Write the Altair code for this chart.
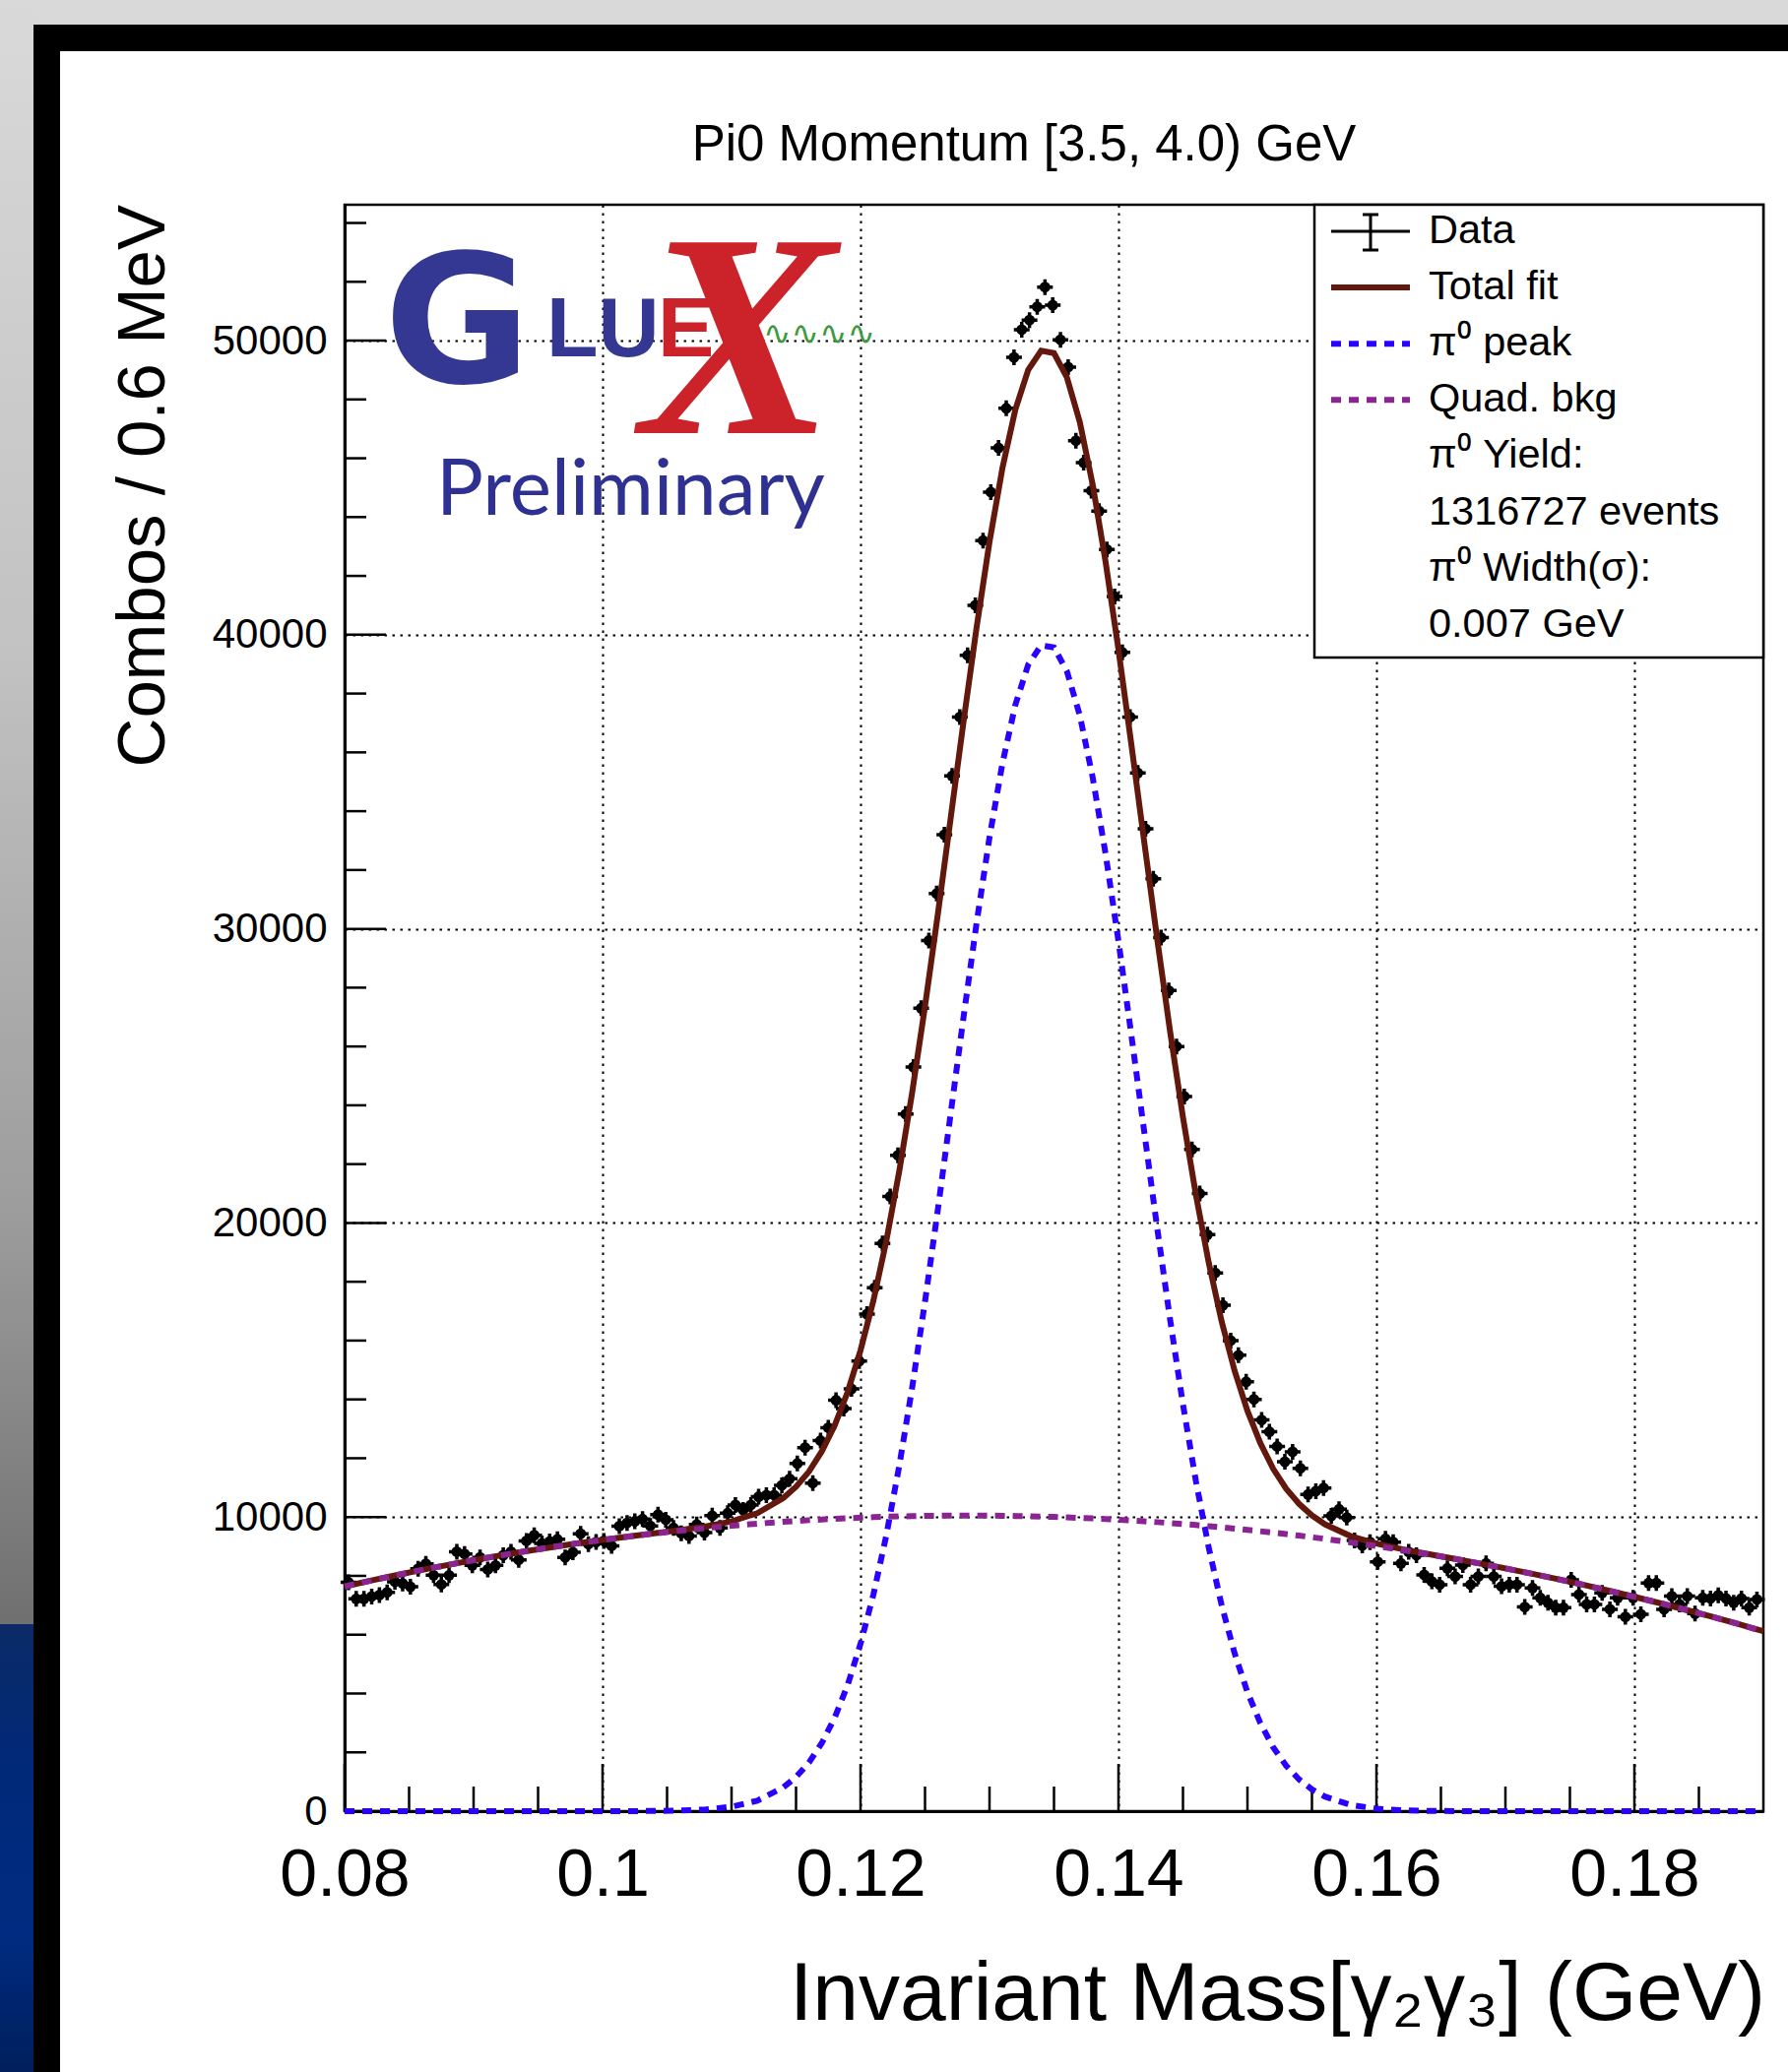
import altair as alt
import pandas as pd

# ---------------- data ----------------
BIN_LO = 0.08          # histogram starts at 0.08 GeV
BIN_W = 0.0006         # 0.6 MeV bins

COUNTS = [
    7780, 7220, 7220, 7300, 7350, 7440, 7800, 7740, 7630, 8245,
    8410, 8020, 7710, 8020, 8820, 8745, 8355, 8630, 8220, 8355,
    8700, 8820, 8545, 9190, 9380, 9100, 9170, 9245, 8630, 8800,
    9430, 9080, 9150, 9190, 9020, 9690, 9800, 9855, 9930, 9700,
    10080, 9910, 9630, 9450, 9355, 9745, 9470, 10045, 9630, 10130,
    10410, 10240, 10410, 10690, 10745, 10745, 11080, 11300, 11820, 12360,
    11155, 12600, 13040, 13970, 13690, 14355,
    15300, 16900, 17800, 19300, 20900, 22300, 23700, 25300, 27300, 29600,
    31200, 33200, 35200, 37200, 39300, 41000, 43200, 44850, 46350, 47700,
    49430, 50370, 50700, 51150, 51818, 51205, 50030, 49100, 46600, 45850,
    44900, 44200, 42900, 41300, 39400, 37200, 35300, 33400, 31700, 29700,
    27900, 26000, 24300, 22500, 21000, 19600, 18300, 17200, 16000, 15500,
    14600, 14000, 13300, 12900, 12400,
    11881, 12216, 11658, 10766, 10878, 10989, 10040, 10263, 9984, 9203,
    9036, 9148, 8479, 9259, 9148, 8424, 8815, 8703, 8034, 7811,
    7700, 8257, 7978, 8369, 7700, 7978, 8424, 7978, 7644, 7700,
    7700, 6941, 7588, 7253, 7086, 6919, 6919, 7867, 7365, 7030,
    7030, 7421, 6863, 7253, 6606, 7253, 6695, 7756, 7756, 6863,
    7309, 7030, 7309, 6718, 7253, 7231, 7342, 7231, 7086, 7231,
    6919, 7197,
]

CURVE_X = [
    0.080, 0.082, 0.084, 0.086, 0.088, 0.090, 0.092, 0.094, 0.096, 0.098,
    0.100, 0.102, 0.104, 0.106, 0.108, 0.110, 0.112, 0.114,
    0.115, 0.116, 0.117, 0.118, 0.119, 0.120, 0.121, 0.122, 0.123, 0.124,
    0.125, 0.126, 0.127, 0.128, 0.129, 0.130, 0.131, 0.132, 0.133, 0.134,
    0.135, 0.136, 0.137, 0.138, 0.139, 0.140, 0.141, 0.142, 0.143, 0.144,
    0.145, 0.146, 0.147, 0.148, 0.149, 0.150, 0.151, 0.152, 0.153, 0.154,
    0.155, 0.156,
    0.158, 0.160, 0.162, 0.164, 0.166, 0.168, 0.170, 0.172, 0.174, 0.176,
    0.178, 0.180, 0.182, 0.184, 0.186, 0.188, 0.190,
]
BKG = [
    7640, 7835, 8023, 8202, 8372, 8535, 8689, 8835, 8972, 9102,
    9223, 9335, 9440, 9536, 9624, 9704, 9775, 9839,
    9867, 9894, 9918, 9940, 9961, 9979, 9995, 10009, 10021, 10031,
    10039, 10045, 10048, 10050, 10050, 10047, 10042, 10036, 10027, 10016,
    10004, 9989, 9972, 9953, 9932, 9909, 9883, 9856, 9827, 9796,
    9762, 9727, 9689, 9649, 9607, 9564, 9518, 9470, 9420, 9368,
    9314, 9257,
    9139, 9012, 8877, 8734, 8582, 8422, 8254, 8077, 7893, 7700,
    7498, 7289, 7071, 6845, 6611, 6368, 6117,
]
PEAK = [
    0, 0, 0, 0, 0, 0, 0, 0, 0, 0,
    0, 2, 7, 20, 57, 150, 358, 803,
    1161, 1650, 2317, 3180, 4288, 5690, 7364, 9380, 11730, 14390,
    17330, 20470, 23750, 27040, 30200, 33110, 35620, 37610, 38980, 39640,
    39570, 38760, 37260, 35150, 32550, 29580, 26380, 23090, 19830, 16720,
    13830, 11230, 8953, 7000, 5372, 4045, 2993, 2168, 1546, 1081,
    740, 496,
    213, 85, 31, 11, 4, 0, 0, 0, 0, 0,
    0, 0, 0, 0, 0, 0, 0,
]
TOTAL = [
    7640, 7835, 8023, 8202, 8372, 8535, 8689, 8835, 8972, 9102,
    9223, 9337, 9447, 9556, 9681, 9854, 10133, 10642,
    11028, 11544, 12235, 13120, 14249, 15669, 17359, 19389, 21751, 24421,
    27369, 30515, 33798, 37090, 40250, 43157, 45662, 47646, 49007, 49656,
    49574, 48749, 47232, 45103, 42482, 39489, 36263, 32946, 29657, 26516,
    23592, 20957, 18642, 16649, 14979, 13609, 12511, 11638, 10966, 10449,
    10054, 9753,
    9352, 9097, 8908, 8745, 8586, 8422, 8254, 8077, 7893, 7700,
    7498, 7289, 7071, 6845, 6611, 6368, 6117,
]

X_MAJOR = [0.08, 0.10, 0.12, 0.14, 0.16, 0.18]
X_MINOR = [0.085, 0.09, 0.095, 0.105, 0.11, 0.115, 0.125, 0.13, 0.135,
           0.145, 0.15, 0.155, 0.165, 0.17, 0.175, 0.185]
Y_MAJOR = [0, 10000, 20000, 30000, 40000, 50000]
Y_MINOR = [2000, 4000, 6000, 8000, 12000, 14000, 16000, 18000, 22000, 24000,
           26000, 28000, 32000, 34000, 36000, 38000, 42000, 44000, 46000,
           48000, 52000, 54000]

TITLE = "Pi0 Momentum [3.5, 4.0) GeV"
X_TITLE = "Invariant Mass[γ₂γ₃] (GeV)"
Y_TITLE = "Combos / 0.6 MeV"
LEGEND_LABELS = ["Data", "Total fit", "π⁰ peak", "Quad. bkg", "π⁰ Yield:",
                 "1316727 events", "π⁰ Width(σ):", "0.007 GeV"]

# ---------------- layout / style ----------------
W, H = 1441, 1632
PL, PT, PR, PB = 350, 208, 25, 265
FONT = "Liberation Sans"
BROWN = "#62180d"
BLUE = "#2a00ff"
PURPLE = "#8b2493"
DASH = [10, 8]

xs = alt.Scale(domain=[0.08, 0.19], nice=False, zero=False)
ys = alt.Scale(domain=[0, 54620], nice=False, zero=False)

ONE = pd.DataFrame({"k": [0]})


def rx(a):
    return a - PL


def ry(a):
    return a - PT


def rect(x1, x2, y1, y2, fill, stroke=None, sw=0):
    kw = dict(fill=fill, opacity=1)
    if stroke:
        kw.update(stroke=stroke, strokeWidth=sw)
    else:
        kw.update(strokeWidth=0)
    return alt.Chart(ONE).mark_rect(**kw).encode(
        x=alt.value(x1), x2=alt.value(x2), y=alt.value(y1), y2=alt.value(y2))


def hrule(x1, x2, y, color, width, dash=None):
    kw = dict(color=color, strokeWidth=width, opacity=1)
    if dash:
        kw["strokeDash"] = dash
    return alt.Chart(ONE).mark_rule(**kw).encode(
        x=alt.value(x1), x2=alt.value(x2), y=alt.value(y))


def vrule(x, y1, y2, color, width):
    return alt.Chart(ONE).mark_rule(color=color, strokeWidth=width).encode(
        x=alt.value(x), y=alt.value(y1), y2=alt.value(y2))


def text(s, x, y, size, color="black", font=FONT, align="left",
         baseline="middle", angle=None, weight=None, style=None):
    kw = dict(text=s, fontSize=size, color=color, font=font, align=align,
              baseline=baseline)
    if angle is not None:
        kw["angle"] = angle
    if weight:
        kw["fontWeight"] = weight
    if style:
        kw["fontStyle"] = style
    return alt.Chart(ONE).mark_text(**kw).encode(x=alt.value(x), y=alt.value(y))


# ---------------- background frame ----------------
gray_grad = alt.LinearGradient(
    gradient="linear",
    stops=[alt.GradientStop(color="#d9d9d9", offset=0),
           alt.GradientStop(color="#c2c2c2", offset=0.4),
           alt.GradientStop(color="#9c9c9c", offset=0.75),
           alt.GradientStop(color="#707070", offset=1)],
    x1=0, x2=0, y1=0, y2=1)
blue_grad = alt.LinearGradient(
    gradient="linear",
    stops=[alt.GradientStop(color="#0b2a66", offset=0),
           alt.GradientStop(color="#00297a", offset=0.35),
           alt.GradientStop(color="#002b80", offset=0.7),
           alt.GradientStop(color="#001f5c", offset=1)],
    x1=0, x2=0, y1=0, y2=1)

bg = [
    rect(rx(0), rx(1816), ry(0), ry(25), "#d9d9d9"),
    rect(rx(0), rx(34), ry(0), ry(1650), gray_grad),
    rect(rx(0), rx(34), ry(1650), ry(2105), blue_grad),
    rect(rx(34), rx(1816), ry(25), ry(52), "#000000"),
    rect(rx(34), rx(61), ry(25), ry(2105), "#000000"),
]

# ---------------- axes, grid, ticks ----------------
X_AX = alt.Axis(values=X_MAJOR, format="~g", labelFontSize=68, labelFont=FONT,
                labelColor="black", labelPadding=31, labelFlush=False,
                labelOverlap=False, ticks=False, domainColor="black",
                domainWidth=3, grid=True, gridColor="black", gridDash=[2.5, 5.5],
                gridWidth=2, gridOpacity=1, title=None)
Y_AX = alt.Axis(values=Y_MAJOR, format="d", labelFontSize=42, labelFont=FONT,
                labelColor="black", labelPadding=18, labelFlush=False,
                labelOverlap=False, ticks=False, domainColor="black",
                domainWidth=3, grid=True, gridColor="black", gridDash=[2.5, 5.5],
                gridWidth=2, gridOpacity=1, title=None)


def X(field):
    return alt.X(field, scale=xs, axis=X_AX, title=None)


def Y(field):
    return alt.Y(field, scale=ys, axis=Y_AX, title=None)


xmaj = pd.DataFrame({"x": X_MAJOR})
xmin = pd.DataFrame({"x": X_MINOR})
ymaj = pd.DataFrame({"y": Y_MAJOR})
ymin = pd.DataFrame({"y": Y_MINOR})

ticks = [
    alt.Chart(xmaj).mark_rule(color="black", strokeWidth=2.5).encode(
        x=X("x:Q"), y=alt.value(H), y2=alt.value(H - 48)),
    alt.Chart(xmin).mark_rule(color="black", strokeWidth=2.5).encode(
        x=X("x:Q"), y=alt.value(H), y2=alt.value(H - 25)),
    alt.Chart(ymaj).mark_rule(color="black", strokeWidth=2.5).encode(
        y=Y("y:Q"), x=alt.value(0), x2=alt.value(42)),
    alt.Chart(ymin).mark_rule(color="black", strokeWidth=2.5).encode(
        y=Y("y:Q"), x=alt.value(0), x2=alt.value(22)),
]

# ---------------- data points ----------------
centers = [round(BIN_LO + BIN_W * (i + 0.5), 5) for i in range(len(COUNTS))]
pts_df = pd.DataFrame({"x": centers, "y": COUNTS})

pts = alt.Chart(pts_df).mark_point(shape="circle", filled=True, size=120,
                                    color="black", opacity=1).encode(
    x=X("x:Q"), y=Y("y:Q"))
crosses = alt.Chart(pts_df).mark_point(shape="M-1,0H1M0,-1V1", size=256,
                                        filled=False, stroke="black",
                                        strokeWidth=3.5, opacity=1).encode(
    x=X("x:Q"), y=Y("y:Q"))

# ---------------- fit curves ----------------
cdf = pd.DataFrame({"x": CURVE_X, "bkg": BKG, "peak": PEAK, "total": TOTAL})
total_line = alt.Chart(cdf).mark_line(color=BROWN, strokeWidth=6).encode(
    x=X("x:Q"), y=Y("total:Q"))
peak_line = alt.Chart(cdf).mark_line(color=BLUE, strokeWidth=6,
                                     strokeDash=DASH).encode(
    x=X("x:Q"), y=Y("peak:Q"))
bkg_line = alt.Chart(cdf).mark_line(color=PURPLE, strokeWidth=6,
                                    strokeDash=DASH).encode(
    x=X("x:Q"), y=Y("bkg:Q"))

# ---------------- legend ----------------
LX0, LX1 = rx(1335), rx(1791)
LY0, LY1 = ry(208), ry(668)
ROW0, ROWSTEP = ry(235), 57.1
rows = [ROW0 + ROWSTEP * k for k in range(len(LEGEND_LABELS))]
SX0, SX1, SXC = rx(1352), rx(1432), rx(1392)
TX = rx(1451)

legend = [rect(LX0, LX1, LY0, LY1, "white", stroke="black", sw=2.5)]
legend += [
    hrule(SX0, SX1, rows[0], "black", 3),
    vrule(SXC, rows[0] - 17, rows[0] + 19, "black", 3),
    hrule(SXC - 8, SXC + 8, rows[0] - 17, "black", 3),
    hrule(SXC - 8, SXC + 8, rows[0] + 19, "black", 3),
    hrule(SX0, SX1, rows[1], BROWN, 6),
    hrule(SX0, SX1, rows[2], BLUE, 6, DASH),
    hrule(SX0, SX1, rows[3], PURPLE, 6, DASH),
]
legend += [text(lab, TX, rows[k], 41.5) for k, lab in enumerate(LEGEND_LABELS)]

# ---------------- GlueX logo ----------------
LOGO_BLUE = "#343893"
LOGO_RED = "#cc2229"
logo = [
    text("G", rx(390), ry(388), 182, LOGO_BLUE, font="DejaVu Sans",
         baseline="alphabetic", weight="bold"),
    text("LU", rx(555), ry(362), 86, LOGO_BLUE, baseline="alphabetic",
         weight="bold"),
    text("E", rx(668), ry(362), 86, LOGO_RED, baseline="alphabetic",
         weight="bold"),
    text("X", rx(750), ry(440), 296, LOGO_RED, font="Liberation Serif",
         align="center", baseline="alphabetic", weight="bold", style="italic"),
    text("∿∿∿∿", rx(832), ry(340), 34, "#3c9a3c", font="DejaVu Sans",
         align="center"),
    text("Preliminary", rx(443), ry(523), 80, "#2e3192", font="Lato",
         baseline="alphabetic"),
]

# ---------------- titles ----------------
titles = [
    text(TITLE, rx(1040), ry(148), 51, align="center"),
    text(Y_TITLE, rx(146), ry(208), 69, align="right", angle=270),
    text(X_TITLE, rx(1793), ry(2052), 84, align="right", baseline="alphabetic"),
]

layers = bg + [pts] + ticks + [crosses, total_line, peak_line, bkg_line] + \
    legend + logo + titles

chart = alt.layer(*layers).properties(
    width=W, height=H,
    padding={"left": PL, "top": PT, "right": PR, "bottom": PB},
    autosize=alt.AutoSizeParams(type="none"),
    background="white",
).configure_view(stroke="black", strokeWidth=2.5)

chart.save("out.html", embed_options={"renderer": "svg", "actions": False})
